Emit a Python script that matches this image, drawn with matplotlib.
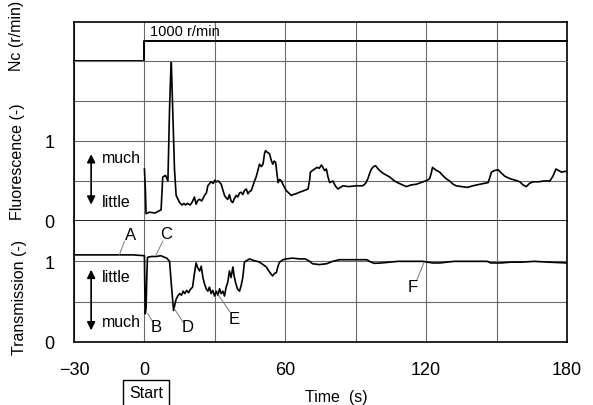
import numpy as np
import matplotlib
matplotlib.use("Agg")
import matplotlib.pyplot as plt

plt.rcParams['font.family'] = ['Liberation Sans', 'DejaVu Sans']

# rotation speed of the stirrer (step at start)
nc_time = [-30, 0, 0, 180]
nc_speed = [0, 0, 1000, 1000]

# fluorescence signal (time s, value -)
fluor_points = [
    (0.0, 0.65), (0.4, 0.40), (0.7, 0.09), (2.1, 0.11), (4.5, 0.10), (7.1, 0.14), (7.8, 0.55),
    (9.0, 0.57), (10.0, 0.50), (10.7, 1.40), (11.4, 2.03), (12.1, 1.32), (12.8, 0.65), (13.5, 0.32),
    (15.0, 0.23), (16.0, 0.20), (16.8, 0.22), (17.5, 0.20), (18.3, 0.22), (19.5, 0.20), (20.4, 0.24),
    (21.3, 0.30), (22.0, 0.21), (22.8, 0.26), (23.5, 0.27), (24.4, 0.25), (25.6, 0.32), (26.4, 0.35),
    (27.0, 0.44), (27.8, 0.47), (28.4, 0.49), (29.3, 0.47), (30.0, 0.51), (30.6, 0.49), (31.5, 0.50),
    (32.7, 0.46), (33.3, 0.40), (34.1, 0.32), (34.8, 0.29), (35.5, 0.27), (36.2, 0.33), (36.9, 0.25),
    (37.6, 0.23), (38.3, 0.28), (39.1, 0.32), (39.8, 0.30), (40.5, 0.35), (41.2, 0.36), (41.9, 0.33),
    (42.6, 0.38), (43.4, 0.40), (44.1, 0.34), (44.8, 0.37), (45.5, 0.38), (46.2, 0.44), (46.9, 0.50),
    (47.6, 0.55), (48.3, 0.63), (49.0, 0.71), (49.8, 0.68), (50.5, 0.71), (51.2, 0.85), (51.6, 0.88),
    (52.3, 0.86), (53.3, 0.84), (54.0, 0.76), (54.7, 0.71), (55.3, 0.75), (55.9, 0.73), (56.4, 0.60),
    (56.9, 0.48), (57.6, 0.52), (58.3, 0.50), (59.3, 0.44), (60.4, 0.38), (61.5, 0.35), (62.5, 0.32),
    (63.3, 0.33), (64.5, 0.34), (66.1, 0.36), (68.0, 0.38), (69.7, 0.40), (70.4, 0.52), (70.7, 0.61),
    (71.5, 0.63), (72.5, 0.65), (73.5, 0.67), (74.5, 0.66), (75.4, 0.70), (76.2, 0.66), (76.8, 0.63),
    (77.5, 0.65), (78.2, 0.55), (78.9, 0.48), (79.6, 0.49), (80.3, 0.50), (81.3, 0.44), (82.4, 0.40),
    (83.5, 0.42), (84.5, 0.44), (87.0, 0.43), (90.0, 0.44), (93.0, 0.44), (94.2, 0.47), (95.2, 0.53),
    (96.0, 0.60), (96.7, 0.65), (97.6, 0.68), (98.5, 0.69), (99.3, 0.66), (100.2, 0.63), (102.0, 0.59),
    (104.5, 0.55), (106.5, 0.50), (108.5, 0.47), (111.6, 0.43), (113.5, 0.45), (115.9, 0.46),
    (118.7, 0.49), (120.5, 0.51), (121.5, 0.53), (122.2, 0.60), (122.7, 0.67), (124.0, 0.64),
    (125.8, 0.61), (127.0, 0.57), (128.5, 0.53), (130.0, 0.50), (131.5, 0.46), (132.8, 0.44),
    (135.0, 0.43), (137.5, 0.42), (139.9, 0.44), (143.0, 0.46), (146.4, 0.48), (147.2, 0.55),
    (147.8, 0.61), (149.0, 0.63), (150.7, 0.64), (152.0, 0.60), (153.5, 0.56), (155.6, 0.53),
    (158.0, 0.51), (159.9, 0.49), (161.3, 0.45), (162.7, 0.43), (164.0, 0.47), (165.6, 0.49),
    (168.0, 0.49), (170.0, 0.50), (172.7, 0.50), (174.0, 0.56), (175.3, 0.65), (176.5, 0.63),
    (177.7, 0.61), (179.0, 0.62), (180.0, 0.62),
]

# transmission signal (time s, value -)
trans_points = [
    (-30.0, 1.08), (-5.0, 1.08), (0.0, 1.07), (0.2, 0.60), (0.35, 0.35), (0.7, 0.42), (1.0, 0.80),
    (1.3, 1.05), (3.0, 1.06), (5.0, 1.06), (7.0, 1.07), (8.5, 1.05), (9.5, 1.04), (10.7, 1.00),
    (11.5, 0.70), (12.4, 0.39), (13.0, 0.47), (13.5, 0.53), (14.2, 0.57), (15.0, 0.60), (15.8, 0.58),
    (16.5, 0.63), (17.2, 0.60), (18.0, 0.64), (18.8, 0.61), (19.5, 0.65), (20.5, 0.68), (21.3, 0.85),
    (22.0, 0.98), (22.7, 0.92), (23.5, 0.88), (24.2, 0.94), (24.9, 0.80), (25.6, 0.72), (26.3, 0.66),
    (27.0, 0.63), (27.7, 0.68), (28.4, 0.60), (29.1, 0.64), (29.9, 0.57), (30.6, 0.63), (31.3, 0.58),
    (32.0, 0.66), (32.7, 0.60), (33.4, 0.63), (34.1, 0.57), (34.8, 0.68), (35.5, 0.74), (36.2, 0.88),
    (36.9, 0.80), (37.7, 0.93), (38.2, 0.82), (38.8, 0.74), (39.6, 0.66), (40.5, 0.63), (41.2, 0.70),
    (41.9, 0.80), (42.6, 0.99), (43.6, 1.01), (44.8, 1.03), (46.5, 1.01), (48.0, 1.00), (49.0, 0.99),
    (50.5, 0.96), (51.9, 0.93), (53.0, 0.88), (54.0, 0.84), (54.6, 0.82), (55.4, 0.85), (56.2, 0.86),
    (57.0, 0.95), (57.6, 0.99), (59.0, 1.02), (60.4, 1.03), (63.0, 1.04), (66.1, 1.03), (68.5, 1.03),
    (70.4, 1.00), (71.6, 0.97), (74.5, 0.96), (77.6, 0.97), (80.2, 1.00), (83.0, 1.02), (89.0, 1.02),
    (94.7, 1.02), (96.5, 0.99), (98.0, 0.975), (101.0, 0.98), (104.5, 0.99), (108.0, 1.00),
    (111.7, 1.00), (118.5, 1.00), (120.5, 0.99), (122.8, 0.98), (126.0, 0.98), (128.8, 0.99),
    (132.0, 1.00), (136.0, 1.00), (141.0, 1.00), (146.0, 1.00), (147.5, 0.98), (148.4, 0.98),
    (152.0, 0.98), (156.0, 0.99), (161.0, 0.99), (166.0, 1.00), (172.0, 0.99), (176.0, 0.985),
    (180.0, 0.98),
]

x_major = [-30, 0, 60, 120, 180]
x_minor = [30, 90, 150]

# point labels on the transmission curve: letter, label pos, leader start, leader end
letter_names = ['A', 'B', 'C', 'D', 'E', 'F']
letter_pos = [(-6.1, 1.33), (5.0, 0.19), (9.2, 1.35), (18.5, 0.19), (38.4, 0.29), (114.2, 0.69)]
leader_from = [(-8.5, 1.25), (3.8, 0.24), (7.8, 1.25), (16.6, 0.24), (36.5, 0.37), (115.9, 0.76)]
leader_to = [(-10.7, 1.08), (1.4, 0.35), (5.0, 1.08), (12.8, 0.41), (31.3, 0.59), (119.0, 0.98)]

W, H = 593, 406
fig = plt.figure(figsize=(W / 100, H / 100), dpi=100)


def frac_y(px):
    return 1 - px / H


left, right = 74 / W, 567 / W
ax_nc = fig.add_axes([left, frac_y(62), right - left, frac_y(23) - frac_y(62)])
ax_fl = fig.add_axes([left, frac_y(222), right - left, frac_y(62) - frac_y(222)], sharex=ax_nc)
ax_tr = fig.add_axes([left, frac_y(343), right - left, frac_y(222) - frac_y(343)], sharex=ax_nc)

grid_kw = dict(color='#6a6a6a', linewidth=0.8)

for ax in (ax_nc, ax_fl, ax_tr):
    ax.set_xlim(-30, 180)
    ax.set_xticks(x_major)
    ax.set_xticks(x_minor, minor=True)
    ax.grid(True, which='both', axis='x', **grid_kw)
    ax.tick_params(which='both', length=0, labelsize=13)
    for s in ax.spines.values():
        s.set_linewidth(1.2)
    ax.set_axisbelow(True)

ax_nc.set_ylim(0, 1950)
ax_nc.set_yticks([])
ax_nc.spines['bottom'].set_visible(False)
ax_nc.tick_params(axis='x', which='both', labelbottom=False)
ax_nc.plot(nc_time, nc_speed, color='black', linewidth=1.4, clip_on=False)
ax_nc.text(2.5, 1500, '1000 r/min', fontsize=10.5, va='center', ha='left')

ax_fl.set_ylim(0, 2)
ax_fl.set_yticks([0, 1])
ax_fl.set_yticks([0.5, 1.5], minor=True)
ax_fl.grid(True, which='both', axis='y', **grid_kw)
ax_fl.spines['top'].set_color('#6a6a6a')
ax_fl.spines['top'].set_linewidth(0.8)
ax_fl.tick_params(axis='x', which='both', labelbottom=False)
ax_fl.tick_params(axis='y', pad=14)
ft, fv = zip(*fluor_points)
ax_fl.plot(ft, fv, color='black', linewidth=1.2)

ax_tr.set_ylim(0, 1.5)
ax_tr.set_yticks([0, 1])
ax_tr.set_yticks([0.5], minor=True)
ax_tr.grid(True, which='both', axis='y', **grid_kw)
ax_tr.spines['top'].set_visible(False)
ax_tr.tick_params(axis='y', pad=14)
ax_tr.tick_params(axis='x', pad=14)
tt, tv = zip(*trans_points)
ax_tr.plot(tt, tv, color='black', linewidth=1.2)

# much / little arrows
arrow_kw = dict(arrowstyle='<|-|>', color='black', linewidth=1.2, mutation_scale=12)
ax_fl.annotate('', xy=(-22.7, 0.87), xytext=(-22.7, 0.17), arrowprops=arrow_kw)
ax_fl.text(-18.0, 0.79, 'much', fontsize=11.5, va='center')
ax_fl.text(-18.0, 0.24, 'little', fontsize=11.5, va='center')
ax_tr.annotate('', xy=(-22.7, 0.93), xytext=(-22.7, 0.11), arrowprops=arrow_kw)
ax_tr.text(-18.0, 0.81, 'little', fontsize=11.5, va='center')
ax_tr.text(-18.0, 0.26, 'much', fontsize=11.5, va='center')

for name, pos, p0, p1 in zip(letter_names, letter_pos, leader_from, leader_to):
    ax_tr.text(pos[0], pos[1], name, fontsize=12, ha='center', va='center')
    ax_tr.plot([p0[0], p1[0]], [p0[1], p1[1]], color='#777777', linewidth=0.7, clip_on=False)

fig.text(16 / W, frac_y(36), 'Nc (r/min)', rotation=90, fontsize=11.5, ha='center', va='center')
fig.text(18 / W, frac_y(162), 'Fluorescence (-)', rotation=90, fontsize=11.5, ha='center', va='center')
fig.text(20 / W, frac_y(297), 'Transmission (-)', rotation=90, fontsize=11.5, ha='center', va='center')

fig.text(336 / W, frac_y(398), 'Time  (s)', fontsize=11.5, ha='center', va='center')
fig.text(146 / W, frac_y(394), 'Start', fontsize=11.5, ha='center', va='center',
         bbox=dict(boxstyle='square,pad=0.35', facecolor='white', edgecolor='black', linewidth=1.0))

fig.savefig('out.png', dpi=100)
